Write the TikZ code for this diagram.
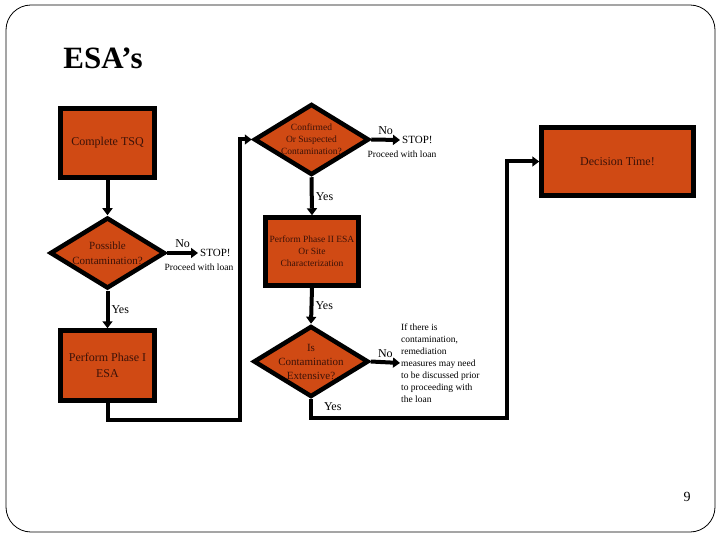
\documentclass[tikz,border=0pt]{standalone}
\usepackage{fontspec}
\setmainfont{Liberation Serif}
\usetikzlibrary{shapes.geometric,arrows.meta}
\definecolor{esaorange}{RGB}{208,74,20}
\definecolor{esatext}{RGB}{60,18,8}
\begin{document}
\begin{tikzpicture}[x=1pt,y=-1pt,
    box/.style={draw, line width=4.5pt, fill=esaorange, text=esatext, align=center, inner sep=2pt},
    decide/.style={diamond, draw, line width=4.5pt, fill=esaorange, text=esatext, align=center,
        aspect=1.6, inner xsep=-5pt, inner ysep=-4pt, minimum width=115pt, minimum height=71pt},
    conn/.style={line width=4pt, -{Triangle[length=7pt,width=10pt]}},
    word/.style={inner sep=2pt, font=\fontsize{12}{14}\selectfont}]
  \useasboundingbox (0,0) rectangle (720,540);
  % slide frame
  \draw[line width=0.8pt, rounded corners=25pt] (6,5) rectangle (715,532);
  \node[font=\fontsize{31}{34}\selectfont\bfseries] (title) at (103,58) {ESA’s};
  \node[font=\fontsize{14}{16}\selectfont] (page) at (687,497) {9};

  % left column
  \node[box, minimum width=94pt, minimum height=69pt, font=\fontsize{12}{14}\selectfont] (tsq) at (107.5,143) {Complete TSQ};
  \node[decide, font=\fontsize{11}{15}\selectfont] (possible) at (107.5,253) {Possible\\Contamination?};
  \node[box, minimum width=94pt, minimum height=70pt, font=\fontsize{12}{16}\selectfont] (phaseone) at (107.5,365.5) {Perform Phase I\\ESA};
  \node[word, font=\fontsize{11}{12}\selectfont, anchor=west] (stopa) at (198,253) {STOP!};
  \node[font=\fontsize{9.5}{11}\selectfont] (loana) at (199,267) {Proceed with loan};

  % middle column
  \node[decide, font=\fontsize{9.5}{12}\selectfont] (confirmed) at (311.5,139.5) {Confirmed\\Or Suspected\\Contamination?};
  \node[box, minimum width=93pt, minimum height=68pt, font=\fontsize{9.5}{12}\selectfont] (phasetwo) at (312,251.5) {Perform Phase II ESA\\Or Site\\Characterization};
  \node[decide, font=\fontsize{11}{14}\selectfont] (extensive) at (311,361.5) {Is\\Contamination\\Extensive?};
  \node[word, font=\fontsize{11}{12}\selectfont, anchor=west] (stopb) at (400,140) {STOP!};
  \node[font=\fontsize{9.5}{11}\selectfont] (loanb) at (402,154) {Proceed with loan};
  \node[anchor=west, align=left, inner sep=1pt, font=\fontsize{9.5}{12}\selectfont] (note) at (400,363)
    {If there is\\contamination,\\remediation\\measures may need\\to be discussed prior\\to proceeding with\\the loan};

  % right
  \node[box, minimum width=152pt, minimum height=68pt, font=\fontsize{12}{14}\selectfont] (decision) at (617.5,161.5) {Decision Time!};

  \coordinate (bendA) at (240,420);
  \coordinate (bendB) at (507,418);

  % connectors
  \draw[conn] (tsq.south) -- (possible.north);
  \draw[conn] (possible.east) -- node[word, above, yshift=1pt] {No} (stopa.west);
  \draw[conn] (possible.south) -- node[word, right] {Yes} (phaseone.north);
  \draw[conn] (phaseone.south) |- (bendA) |- (confirmed.west);
  \draw[conn] (confirmed.east) -- node[word, above, yshift=1pt] {No} (stopb.west);
  \draw[conn] (confirmed.south) -- node[word, right] {Yes} (phasetwo.north);
  \draw[conn] (phasetwo.south) -- node[word, right] {Yes} (extensive.north);
  \draw[conn] (extensive.east) -- node[word, above, yshift=1pt] {No} (note.west);
  \draw[conn] (extensive.south) |- node[word, right, pos=0.2, xshift=9pt] {Yes} (bendB) |- (decision.west);
\end{tikzpicture}
\end{document}
